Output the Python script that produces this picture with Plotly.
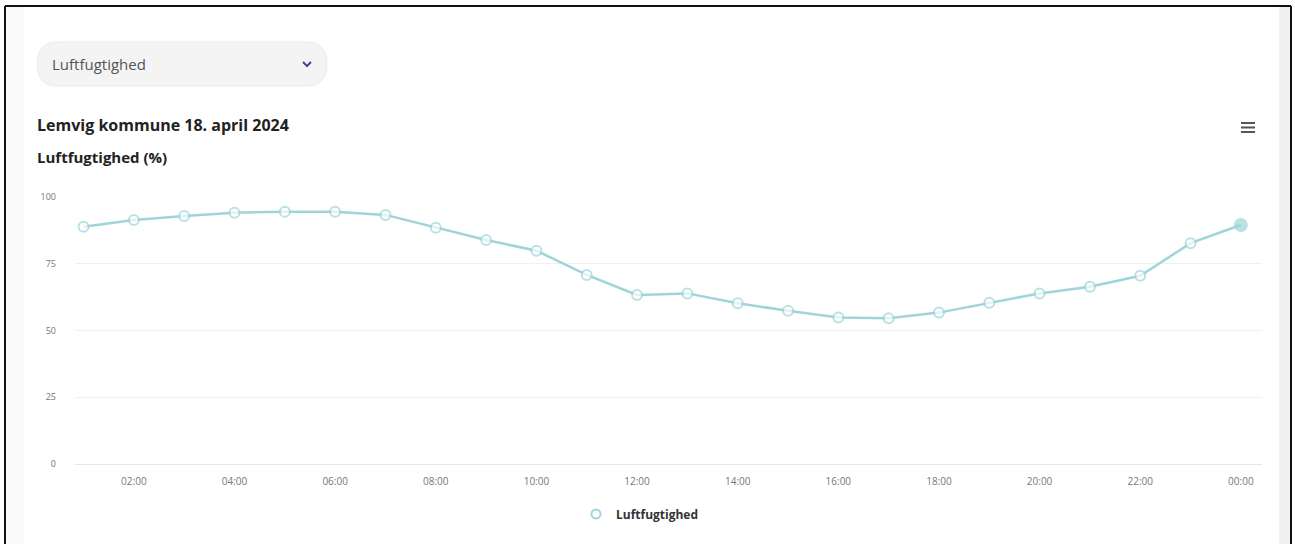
import plotly.graph_objects as go

# ---- data ----
hours = ["01:00", "02:00", "03:00", "04:00", "05:00", "06:00", "07:00", "08:00",
         "09:00", "10:00", "11:00", "12:00", "13:00", "14:00", "15:00", "16:00",
         "17:00", "18:00", "19:00", "20:00", "21:00", "22:00", "23:00", "00:00"]
humidity = [88.9, 91.4, 92.9, 94.1, 94.5, 94.5, 93.3, 88.5,
            83.9, 79.9, 70.8, 63.3, 63.9, 60.2, 57.4, 54.9,
            54.6, 56.7, 60.4, 63.9, 66.4, 70.5, 82.7, 89.5]
x_ticks = ["02:00", "04:00", "06:00", "08:00", "10:00", "12:00",
           "14:00", "16:00", "18:00", "20:00", "22:00", "00:00"]
y_ticks = [0, 25, 50, 75, 100]

series_name = "Luftfugtighed"
title_text = "Lemvig kommune 18. april 2024"
subtitle_text = "Luftfugtighed (%)"
dropdown_text = "Luftfugtighed"

# ---- geometry (pixels) ----
W, H = 1295, 544
PL, PR, PT, PB = 75, 1262, 197, 464

def px(x):
    return (x - PL) / (PR - PL)

def py(y):
    return (PB - y) / (PB - PT)

teal = "#9fd5da"
font = "Open Sans"

marker_fill = ["white"] * (len(humidity) - 1) + [teal]
marker_size = [10] * (len(humidity) - 1) + [12]

fig = go.Figure()
fig.add_trace(go.Scatter(
    x=hours, y=humidity, mode="lines+markers", name=series_name,
    line=dict(color=teal, width=2.5),
    marker=dict(symbol="circle", size=marker_size, color=marker_fill,
                line=dict(color=teal, width=2)),
    showlegend=False, cliponaxis=False, hoverinfo="x+y",
))
fig.add_trace(go.Scatter(
    x=[None], y=[None], mode="markers", name=series_name,
    marker=dict(symbol="circle", size=9, color="white",
                line=dict(color=teal, width=2)),
    showlegend=True,
))

shapes = []
# outer black frame
shapes.append(dict(type="line", xref="paper", yref="paper", x0=px(5), x1=px(5), y0=py(6), y1=py(560),
                   line=dict(color="#111", width=2)))
shapes.append(dict(type="line", xref="paper", yref="paper", x0=px(5), x1=px(1291), y0=py(6), y1=py(6),
                   line=dict(color="#111", width=2)))
shapes.append(dict(type="line", xref="paper", yref="paper", x0=px(1291), x1=px(1291), y0=py(6), y1=py(560),
                   line=dict(color="#111", width=2)))
# faint side strips
shapes.append(dict(type="rect", xref="paper", yref="paper", x0=px(7), x1=px(24), y0=py(7), y1=py(560),
                   line=dict(width=0), fillcolor="#f9fafb", layer="below"))
shapes.append(dict(type="rect", xref="paper", yref="paper", x0=px(1279), x1=px(1290), y0=py(7), y1=py(560),
                   line=dict(width=0), fillcolor="#eef0f2", layer="below"))
# dropdown box (rounded)
x0, x1, y0, y1, r = 37, 327, 42, 86, 20
path = (f"M {px(x0 + r)},{py(y0)} L {px(x1 - r)},{py(y0)} "
        f"Q {px(x1)},{py(y0)} {px(x1)},{py((y0 + y1) / 2)} "
        f"Q {px(x1)},{py(y1)} {px(x1 - r)},{py(y1)} "
        f"L {px(x0 + r)},{py(y1)} "
        f"Q {px(x0)},{py(y1)} {px(x0)},{py((y0 + y1) / 2)} "
        f"Q {px(x0)},{py(y0)} {px(x0 + r)},{py(y0)} Z")
shapes.append(dict(type="path", xref="paper", yref="paper", path=path,
                   fillcolor="#f4f4f4", line=dict(color="#ececec", width=1), layer="below"))
# chevron
shapes.append(dict(type="path", xref="paper", yref="paper",
                   path=f"M {px(303)},{py(62)} L {px(307)},{py(66)} L {px(311)},{py(62)}",
                   line=dict(color="#3a4a9a", width=2)))
# hamburger menu
for yy in (123, 127.5, 132):
    shapes.append(dict(type="line", xref="paper", yref="paper", x0=px(1241), x1=px(1255),
                       y0=py(yy), y1=py(yy), line=dict(color="#555", width=2)))

annotations = [
    dict(text=dropdown_text, xref="paper", yref="paper", x=px(50), y=py(64),
         xanchor="left", yanchor="middle", showarrow=False,
         font=dict(family=font, size=15, color="#555")),
    dict(text=f"<b>{title_text}</b>", xref="paper", yref="paper", x=px(35), y=py(125),
         xanchor="left", yanchor="middle", showarrow=False,
         font=dict(family=font, size=16, color="#222")),
    dict(text=f"<b>{subtitle_text}</b>", xref="paper", yref="paper", x=px(35), y=py(157),
         xanchor="left", yanchor="middle", showarrow=False,
         font=dict(family=font, size=15, color="#222")),
]

fig.update_layout(
    width=W, height=H,
    margin=dict(l=PL, r=W - PR, t=PT, b=H - PB, pad=0),
    paper_bgcolor="white", plot_bgcolor="white",
    font=dict(family=font, color="#666"),
    shapes=shapes, annotations=annotations,
    showlegend=True,
    legend=dict(orientation="h", x=px(576), y=py(514), xanchor="left", yanchor="middle",
                font=dict(family=font, size=12, color="#333", weight="bold"),
                bgcolor="rgba(0,0,0,0)"),
    xaxis=dict(type="category", categoryorder="array", categoryarray=hours,
               range=[-0.17, len(hours) - 1 + 0.42],
               tickvals=x_ticks, ticktext=x_ticks, showgrid=False,
               showline=True, linecolor="#e6e6e6", linewidth=1,
               ticks="", ticklabelstandoff=8,
               tickfont=dict(family=font, size=10, color="#777"), zeroline=False),
    yaxis=dict(range=[0, 100], tickvals=y_ticks, showgrid=True, gridcolor="#f0f0f0",
               gridwidth=1, zeroline=False, showline=False, ticks="",
               ticklabelstandoff=18,
               tickfont=dict(family=font, size=9, color="#777")),
)

fig.write_html("out.html", config={"displayModeBar": False},
               post_script="document.body.style.margin='0';document.body.style.overflow='hidden';")
